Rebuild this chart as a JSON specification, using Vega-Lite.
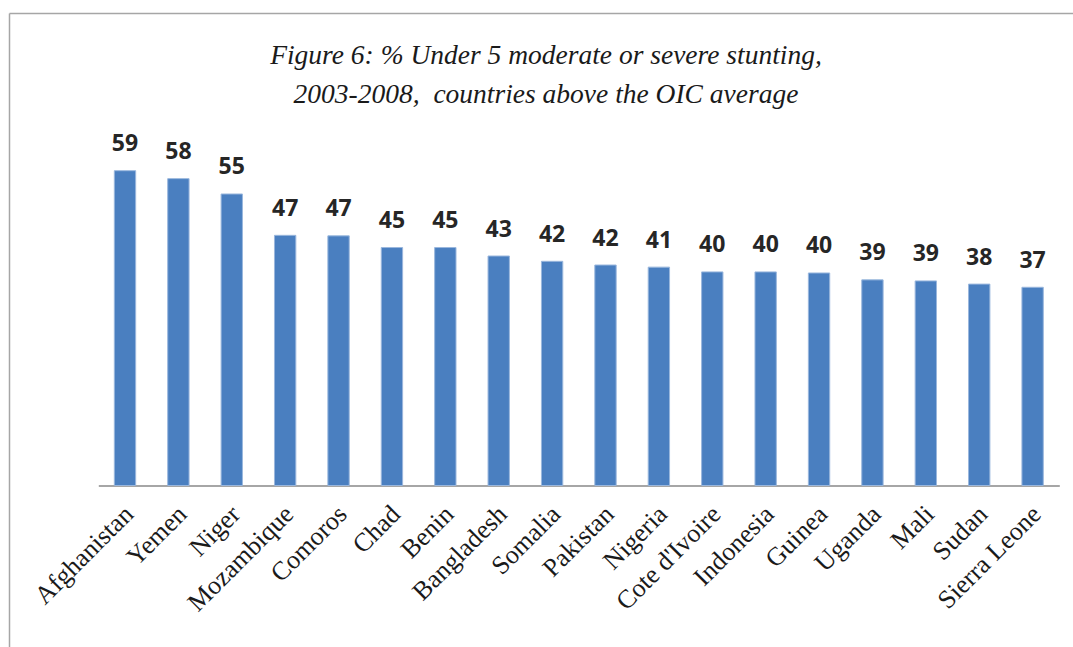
{
  "$schema": "https://vega.github.io/schema/vega-lite/v6.json",
  "autosize": {"type": "none"},
  "width": 1064,
  "height": 634,
  "padding": {"left": 9, "top": 13, "right": 0, "bottom": 0},
  "background": "white",
  "config": {"view": {"stroke": null}},
  "title": {
    "text": ["Figure 6: % Under 5 moderate or severe stunting,", "2003-2008,\u00a0 countries above the OIC average"],
    "font": "Liberation Serif",
    "fontStyle": "italic",
    "fontWeight": "normal",
    "fontSize": 27.5,
    "color": "#1a1a1a",
    "anchor": "middle",
    "frame": "group",
    "lineHeight": 38.5,
    "baseline": "alphabetic",
    "offset": -95,
    "dx": 5,
    "dy": 22
  },
  "data": {
    "values": [
      {"country": "Afghanistan", "value": 59.4},
      {"country": "Yemen", "value": 57.9},
      {"country": "Niger", "value": 55.0},
      {"country": "Mozambique", "value": 47.2},
      {"country": "Comoros", "value": 47.1},
      {"country": "Chad", "value": 44.9},
      {"country": "Benin", "value": 44.9},
      {"country": "Bangladesh", "value": 43.3},
      {"country": "Somalia", "value": 42.3},
      {"country": "Pakistan", "value": 41.6},
      {"country": "Nigeria", "value": 41.2},
      {"country": "Cote d'Ivoire", "value": 40.3},
      {"country": "Indonesia", "value": 40.3},
      {"country": "Guinea", "value": 40.1},
      {"country": "Uganda", "value": 38.8},
      {"country": "Mali", "value": 38.6},
      {"country": "Sudan", "value": 38.0},
      {"country": "Sierra Leone", "value": 37.4}
    ]
  },
  "resolve": {"scale": {"x": "independent"}},
  "layer": [
    {
      "encoding": {
        "x": {
          "field": "country",
          "type": "nominal",
          "sort": null,
          "scale": {"range": [89.3, 1050.3], "paddingInner": 0.6, "paddingOuter": 0.3},
          "axis": {
            "orient": "bottom",
            "offset": -161.5,
            "title": null,
            "domainColor": "#a6a6a6",
            "domainWidth": 2,
            "ticks": false,
            "labelAngle": -45,
            "labelAlign": "right",
            "labelBaseline": "top",
            "labelPadding": 15,
            "labelOffset": -5,
            "labelFont": "Liberation Serif",
            "labelFontSize": 26,
            "labelColor": "#1a1a1a",
            "labelOverlap": false,
            "labelBound": false,
            "labelLimit": 0
          }
        },
        "y": {
          "field": "value",
          "type": "quantitative",
          "scale": {"domain": [-30.47, 89.15], "nice": false, "zero": false},
          "axis": {
            "orient": "left",
            "title": null,
            "labels": false,
            "ticks": false,
            "grid": false,
            "domainColor": "#a6a6a6",
            "domainWidth": 1.5
          }
        }
      },
      "layer": [
        {
          "mark": {"type": "bar", "color": "#4a7fc0", "stroke": "#9ab7dd", "strokeWidth": 1},
          "encoding": {"y2": {"datum": 0}}
        },
        {
          "mark": {"type": "text", "baseline": "alphabetic", "dy": -19.5, "font": "Open Sans", "fontWeight": "bold", "fontSize": 23, "color": "#262626"},
          "encoding": {"text": {"field": "value", "type": "quantitative", "format": ".0f"}}
        }
      ]
    },
    {
      "mark": {"type": "point", "opacity": 0},
      "encoding": {
        "x": {
          "field": "value",
          "type": "quantitative",
          "scale": {"domain": [0, 100], "nice": false},
          "axis": {
            "orient": "top",
            "title": null,
            "labels": false,
            "ticks": false,
            "grid": false,
            "domainColor": "#a6a6a6",
            "domainWidth": 1.5
          }
        },
        "y": {
          "field": "value",
          "type": "quantitative",
          "scale": {"domain": [-30.47, 89.15], "nice": false, "zero": false}
        }
      }
    }
  ]
}
